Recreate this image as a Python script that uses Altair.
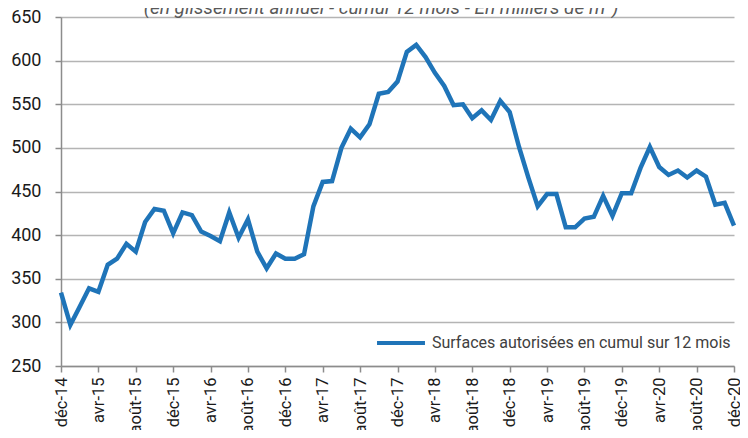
import altair as alt
import pandas as pd

tick_labels = ["déc-14", "avr-15", "août-15", "déc-15", "avr-16", "août-16", "déc-16",
               "avr-17", "août-17", "déc-17", "avr-18", "août-18", "déc-18", "avr-19",
               "août-19", "déc-19", "avr-20", "août-20", "déc-20"]

values = [334, 297, 318, 339, 335, 366, 373, 390, 381, 415, 430, 428,
          402, 426, 423, 404, 399, 393, 426, 397, 418, 381, 362, 379,
          373, 373, 378, 433, 461, 462, 500, 522, 512, 527, 562, 564,
          576, 610, 618, 604, 586, 571, 549, 550, 534, 543, 532, 554,
          541, 501, 466, 433, 447, 447, 409, 409, 419, 421, 445, 422,
          448, 448, 477, 501, 478, 469, 474, 466, 474, 467, 435, 437,
          411]

series_name = "Surfaces autorisées en cumul sur 12 mois"
subtitle = "(en glissement annuel - cumul 12 mois - En milliers de m²)"

df = pd.DataFrame({"idx": list(range(len(values))), "val": values, "serie": series_name})

lab_js = "[" + ",".join("'" + s + "'" for s in tick_labels) + "]"
FONT = "Roboto"

line = alt.Chart(df).mark_line(strokeWidth=4.5, strokeJoin="miter").encode(
    x=alt.X("idx:Q", scale=alt.Scale(domain=[0, 72], nice=False, zero=False),
            axis=alt.Axis(values=list(range(0, 73, 4)), labelExpr=lab_js + "[round(datum.value/4)]",
                          labelAngle=-90, labelAlign="right", labelBaseline="middle",
                          labelFontSize=16.5, labelFont=FONT, labelColor="#1a1a1a",
                          labelPadding=5, tickSize=6, tickColor="#8c8c8c", tickWidth=1.5,
                          domainColor="#8c8c8c", domainWidth=1.5, grid=False, title=None,
                          labelOverlap=False, labelFlush=False)),
    y=alt.Y("val:Q", scale=alt.Scale(domain=[250, 650], nice=False, zero=False),
            axis=alt.Axis(values=list(range(250, 651, 50)), labelFontSize=18, labelFont=FONT,
                          labelColor="#1a1a1a", labelPadding=14, tickSize=6, tickColor="#8c8c8c",
                          tickWidth=1.5, domainColor="#8c8c8c", domainWidth=1.5,
                          grid=True, gridColor="#b4b4b4", gridWidth=1.5, title=None)),
    color=alt.Color("serie:N", scale=alt.Scale(range=["#1f74b8"]),
                    legend=alt.Legend(orient="none", legendX=314, legendY=300, title=None,
                                      symbolType="stroke", symbolSize=2300, symbolStrokeWidth=4,
                                      labelFontSize=16, labelFont=FONT, labelColor="#404040",
                                      labelLimit=500, labelOffset=5, padding=0)),
)

title_txt = alt.Chart(pd.DataFrame({"t": [subtitle]})).mark_text(
    fontSize=19, font=FONT, fontStyle="italic", color="#595959", align="center",
    baseline="alphabetic"
).encode(x=alt.value(320), y=alt.value(-3), text="t:N")

chart = alt.layer(line, title_txt).properties(
    width=673, height=349,
    autosize=alt.AutoSizeParams(type="none"),
    padding={"left": 53, "top": 9, "right": 6, "bottom": 64},
).configure_view(stroke=None)

chart.save("out.html", embed_options={"renderer": "svg", "actions": False})
